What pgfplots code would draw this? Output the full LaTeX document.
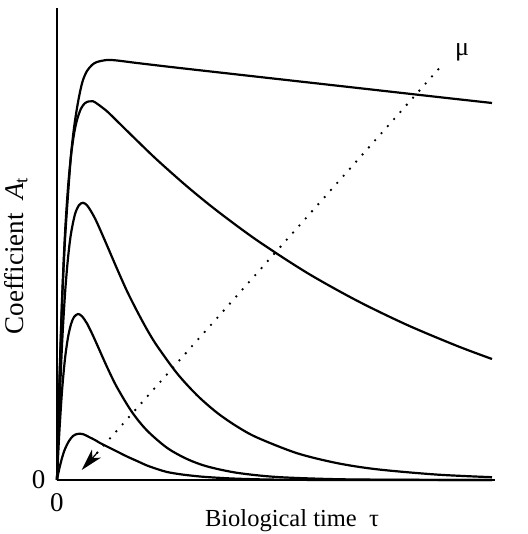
\documentclass[border=0pt]{standalone}
\usepackage{fontspec}
\setmainfont{Liberation Serif}
\usepackage{pgfplots}
\pgfplotsset{compat=1.18}
\usetikzlibrary{arrows.meta}
\begin{document}
\begin{tikzpicture}
\begin{axis}[x=1pt,y=1pt,xmin=0,xmax=438,ymin=0,ymax=472,
  axis lines=left, axis line style={-, line width=2pt},
  xtick={0}, ytick={0}, major tick length=0pt,
  tick label style={font=\fontsize{27}{30}\selectfont},
  xticklabel style={yshift=-10pt},
  yticklabel style={xshift=-8pt},
  /pgf/number format/assume math mode=true,
  clip=false]
% curve 1 (top)
\addplot[smooth, black, line width=2.2pt] coordinates {(0,0) (2,80) (5,175) (8,240) (11,285) (14,325) (17,352) (20,372) (23,388) (26,400) (30,409) (35,415) (40,418) (50,420) (60,419.5) (80,417) (120,412.3) (200,403.3) (300,392.1) (380,383.1) (435,377)};
% curve 2
\addplot[smooth, black, line width=2.2pt] coordinates {(0,0) (2,84.7) (5,179.7) (8,246.3) (11,292.3) (14,324.2) (17,345.9) (20,360) (24,371.4) (28,376.9) (32,378.6) (36,378.7) (40,376.4) (50,368.7) (60,359) (80,339.4) (100,320.2) (130,293.6) (160,269.2) (200,239.7) (250,207.2) (300,179.3) (350,155.1) (400,134.1) (435,121)};
% curve 3
\addplot[smooth, black, line width=2.2pt] coordinates {(0,0) (2,62.6) (5,134.5) (8,186) (11,221.9) (14,246.4) (18,265.8) (22,274.8) (26,277.2) (30,274.7) (35,267.1) (40,257.4) (50,234.6) (60,211.3) (70,188.9) (80,169) (90,150.5) (100,134.2) (120,106.7) (140,84.8) (160,67.3) (180,53.5) (200,42.5) (240,26.8) (280,16.9) (320,10.7) (380,5.4) (435,2.8)};
% curve 4
\addplot[smooth, black, line width=2.2pt] coordinates {(0,0) (2,41.8) (5,88.7) (8,121.3) (11,142.6) (14,155.8) (17,163) (21,166) (25,163.7) (30,156.5) (35,146.5) (40,135.5) (50,113.1) (60,92.7) (75,67.9) (90,49.5) (110,32.2) (130,21) (150,13.6) (180,7.2) (220,3) (280,0.8) (350,0.2) (435,0)};
% curve 5
\addplot[smooth, black, line width=2.2pt] coordinates {(0,0) (2,10) (5,22) (8,31) (12,39) (16,44) (20,46) (23,46.3) (27,45.5) (32,43) (38,40) (43,37) (50,33.5) (60,28.5) (70,23.5) (80,19) (90,14.5) (100,11) (110,8) (125,5.5) (143,3.5) (160,2.3) (180,1.3) (210,0.5) (250,0.1) (300,0) (435,0)};
% dotted arrow (direction of increasing mu)
\addplot[black, line width=2.6pt, dash pattern=on 0pt off 9.5pt, line cap=round] coordinates {(381.3,410.7) (40,27)};
\addplot[black, line width=1.2pt, -{Stealth[length=22pt 0 0,width=12pt 0 0,inset=6pt 0]}] coordinates {(40,27) (24.7,10)};
\node[font=\fontsize{26}{30}\selectfont] at (axis cs:405,428) {μ};
\node[font=\fontsize{24.5}{28}\selectfont] at (axis cs:235,-41) {Biological time\ \ τ};
\node[font=\fontsize{27}{30}\selectfont, rotate=90] at (axis cs:-41,224) {Coefficient\ \ {\itshape A}\textsubscript{t}};
\coordinate (bl) at (axis cs:-57,-54);
\coordinate (tr) at (axis cs:470,480);
\end{axis}
\pgfresetboundingbox
\path[use as bounding box] (bl) rectangle (tr);
\end{tikzpicture}
\end{document}
